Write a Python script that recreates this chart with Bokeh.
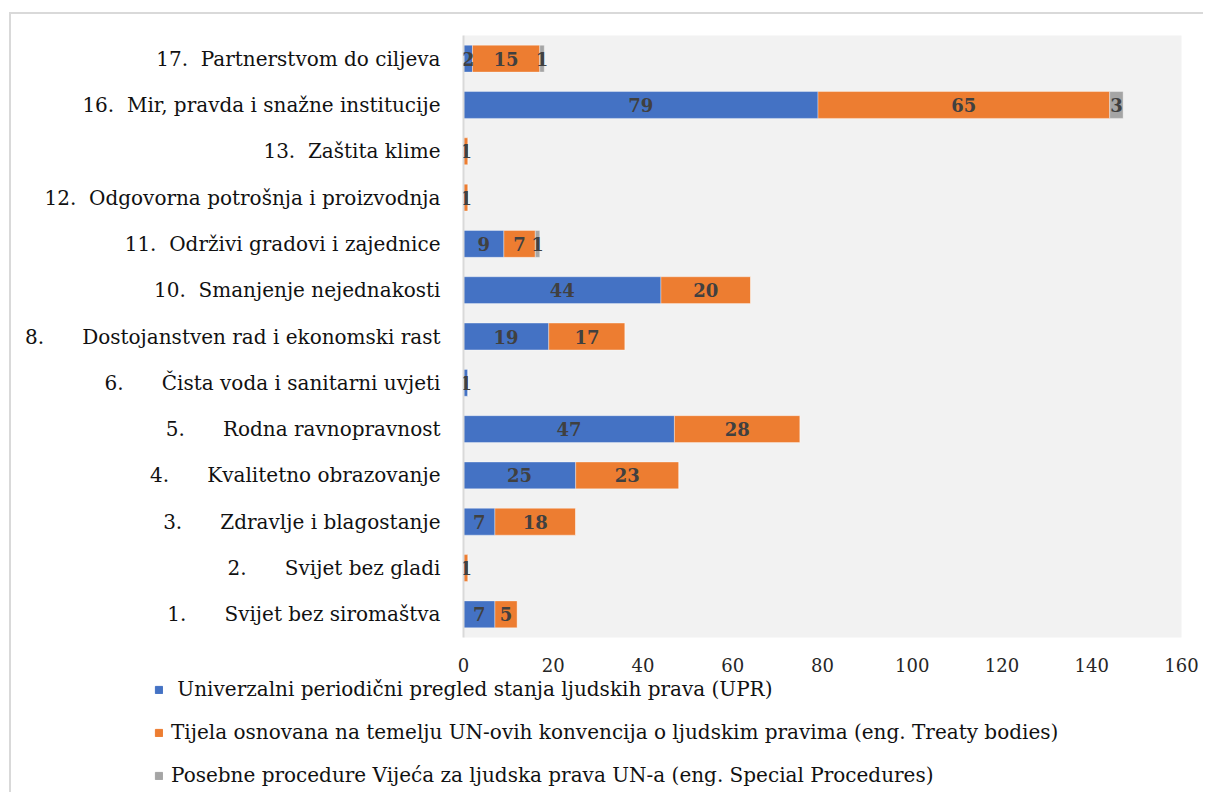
from bokeh.plotting import figure
from bokeh.models import ColumnDataSource, LabelSet, FixedTicker, Range1d, Legend
from bokeh.embed import file_html
from bokeh.resources import INLINE
from bokeh.core.properties import value

NB = "\u00a0"

goal_numbers = ["1.", "2.", "3.", "4.", "5.", "6.", "8.", "10.", "11.", "12.", "13.", "16.", "17."]
goal_names = [
    "Svijet bez siromaštva",
    "Svijet bez gladi",
    "Zdravlje i blagostanje",
    "Kvalitetno obrazovanje",
    "Rodna ravnopravnost",
    "Čista voda i sanitarni uvjeti",
    "Dostojanstven rad i ekonomski rast",
    "Smanjenje nejednakosti",
    "Održivi gradovi i zajednice",
    "Odgovorna potrošnja i proizvodnja",
    "Zaštita klime",
    "Mir, pravda i snažne institucije",
    "Partnerstvom do ciljeva",
]
upr = [7, 0, 7, 25, 47, 1, 19, 44, 9, 0, 0, 79, 2]
treaty = [5, 1, 18, 23, 28, 0, 17, 20, 7, 1, 1, 65, 15]
special = [0, 0, 0, 0, 0, 0, 0, 0, 1, 0, 0, 3, 1]

series_keys = ["upr", "treaty", "special"]
series_labels = [
    NB + "Univerzalni periodični pregled stanja ljudskih prava (UPR)",
    "Tijela osnovana na temelju UN-ovih konvencija o ljudskim pravima (eng. Treaty bodies)",
    "Posebne procedure Vijeća za ljudska prava UN-a (eng. Special Procedures)",
]
series_colors = ["#4472c4", "#ed7d31", "#a5a5a5"]
x_ticks = [0, 20, 40, 60, 80, 100, 120, 140, 160]

categories = []
for num, name in zip(goal_numbers, goal_names):
    gap = NB * (6 if len(num) == 2 else 2)
    categories.append(num + gap + name)

# axis labels sit slightly below the bar centres in the original
label_overrides = {c: NB + "\n" + c for c in categories}

SERIF = "DejaVu Serif"

source = ColumnDataSource(dict(cat=categories, upr=upr, treaty=treaty, special=special))

p = figure(
    width=1194, height=666,
    y_range=categories, x_range=Range1d(0, 160),
    output_backend="svg", toolbar_location=None,
    min_border_left=452, min_border_right=24, min_border_top=21, min_border_bottom=43,
)
p.styles = {
    "margin-left": "9px",
    "margin-top": "12px",
    "border-top": "2px solid #d9d9d9",
    "border-left": "2px solid #d9d9d9",
}
p.background_fill_color = "#f2f2f2"
p.border_fill_color = "white"
p.outline_line_color = None
p.xgrid.grid_line_color = None
p.ygrid.grid_line_color = None

p.hbar_stack(series_keys, y="cat", height=0.58, color=series_colors, source=source,
             line_color="white", line_width=0.6, line_alpha=0.6)

# data labels
series_vals = [upr, treaty, special]
starts = [0] * len(categories)
for vals in series_vals:
    xs, ys, txt = [], [], []
    for i, v in enumerate(vals):
        if v > 0:
            xs.append(starts[i] + v / 2)
            ys.append(categories[i])
            txt.append(str(v))
    for i, v in enumerate(vals):
        starts[i] += v
    ls = LabelSet(x="x", y="y", text="t", source=ColumnDataSource(dict(x=xs, y=ys, t=txt)),
                  text_align="center", text_baseline="middle",
                  text_font=value(SERIF), text_font_style="bold",
                  text_font_size="18px", text_color="#404040")
    p.add_layout(ls)

# axes
p.xaxis.ticker = FixedTicker(ticks=x_ticks)
p.xaxis.axis_line_color = None
p.xaxis.major_tick_line_color = None
p.xaxis.minor_tick_line_color = None
p.xaxis.major_label_text_font = SERIF
p.xaxis.major_label_text_font_size = "18px"
p.xaxis.major_label_text_color = "#262626"
p.xaxis.major_label_standoff = 14

p.yaxis.axis_line_color = "#d9d9d9"
p.yaxis.axis_line_width = 2
p.yaxis.major_tick_line_color = None
p.yaxis.minor_tick_line_color = None
p.yaxis.major_label_text_font = SERIF
p.yaxis.major_label_text_font_size = "20px"
p.yaxis.major_label_text_color = "#111111"
p.yaxis.major_label_text_line_height = 1.0
p.yaxis.major_label_overrides = label_overrides
p.yaxis.major_label_standoff = 17

# legend in its own figure below the chart
q = figure(
    width=1194, height=114,
    x_range=Range1d(0, 1), y_range=Range1d(0, 1),
    x_axis_type=None, y_axis_type=None,
    output_backend="svg", toolbar_location=None,
    min_border=0,
)
q.styles = {
    "margin-left": "9px",
    "border-left": "2px solid #d9d9d9",
}
q.outline_line_color = None
q.background_fill_color = "white"
q.border_fill_color = "white"
q.xgrid.grid_line_color = None
q.ygrid.grid_line_color = None
items = []
for lab, col in zip(series_labels, series_colors):
    r = q.hbar(y=[-5], left=[0], right=[1], height=1, color=col)
    items.append((lab, [r]))
lg = Legend(items=items)
lg.location = (143, 5)
lg.orientation = "vertical"
lg.background_fill_alpha = 0
lg.border_line_color = None
lg.padding = 0
lg.margin = 0
lg.spacing = 19
lg.label_height = 21
lg.glyph_height = 9
lg.glyph_width = 9
lg.label_standoff = 8
lg.label_text_font = SERIF
lg.label_text_font_size = "20px"
lg.label_text_color = "#111111"
q.add_layout(lg, "center")

open("out.html", "w").write(file_html([p, q], INLINE))
